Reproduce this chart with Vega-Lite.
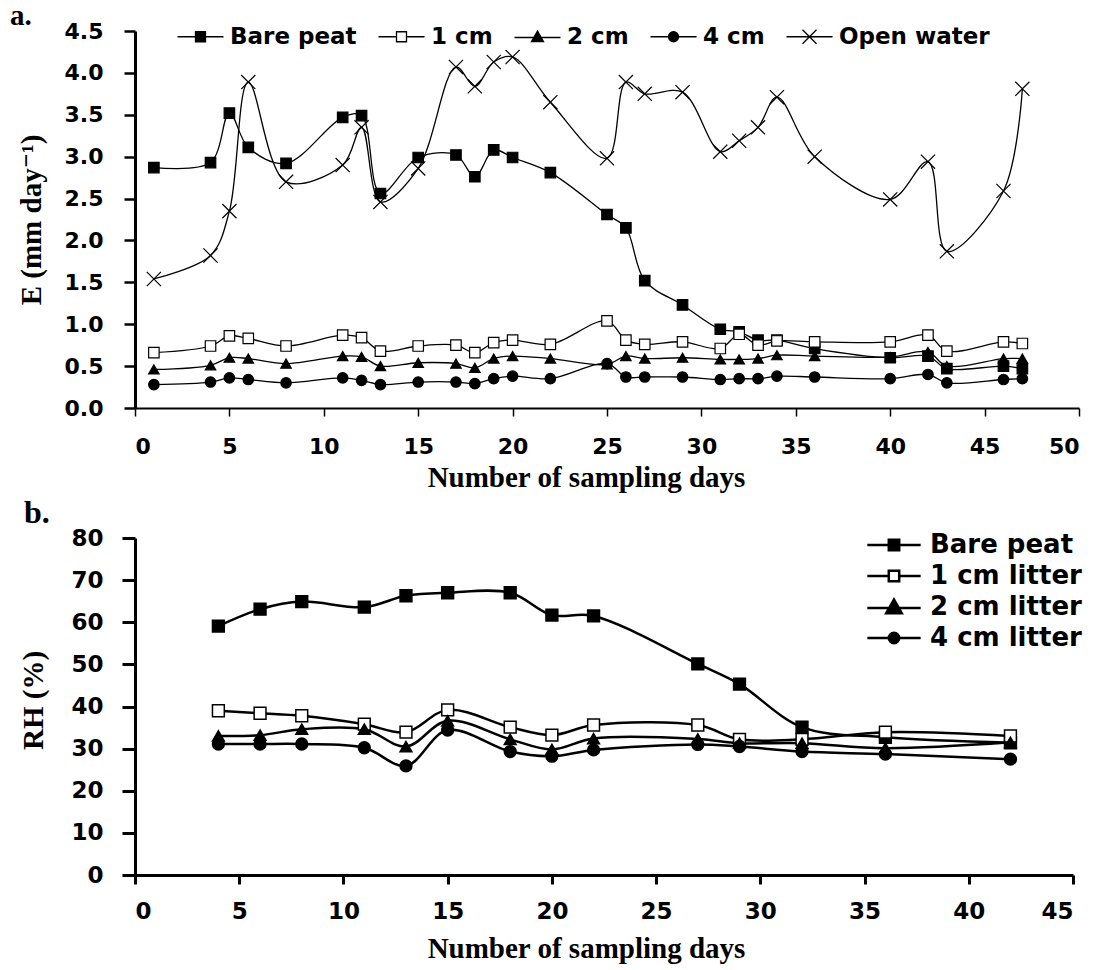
{
  "$schema": "https://vega.github.io/schema/vega-lite/v6.json",
  "padding": {"left": 10, "top": 2, "right": 5, "bottom": 5},
  "background": "white",
  "spacing": 5,
  "resolve": {"scale": {"shape": "independent", "fill": "independent"}, "legend": {"shape": "independent", "fill": "independent"}},
  "config": {
    "view": {"stroke": null},
    "axis": {"grid": false, "labelFont": "DejaVu Sans", "labelFontWeight": "bold", "labelColor": "black", "titleFont": "Liberation Serif, DejaVu Serif", "titleFontWeight": "bold", "titleColor": "black", "domainColor": "black", "tickColor": "black"},
    "legend": {"labelFont": "DejaVu Sans", "labelFontWeight": "bold", "labelColor": "black"}
  },
  "datasets": {
    "a": [
      {"series":"Bare peat","day":1,"E":2.87},{"series":"Bare peat","day":4,"E":2.93},{"series":"Bare peat","day":5,"E":3.52},{"series":"Bare peat","day":6,"E":3.11},{"series":"Bare peat","day":8,"E":2.92},{"series":"Bare peat","day":11,"E":3.47},{"series":"Bare peat","day":12,"E":3.49},{"series":"Bare peat","day":13,"E":2.56},{"series":"Bare peat","day":15,"E":2.99},{"series":"Bare peat","day":17,"E":3.02},{"series":"Bare peat","day":18,"E":2.76},{"series":"Bare peat","day":19,"E":3.08},{"series":"Bare peat","day":20,"E":2.99},{"series":"Bare peat","day":22,"E":2.81},{"series":"Bare peat","day":25,"E":2.31},{"series":"Bare peat","day":26,"E":2.15},{"series":"Bare peat","day":27,"E":1.52},{"series":"Bare peat","day":29,"E":1.23},{"series":"Bare peat","day":31,"E":0.94},{"series":"Bare peat","day":32,"E":0.91},{"series":"Bare peat","day":33,"E":0.81},{"series":"Bare peat","day":34,"E":0.81},{"series":"Bare peat","day":36,"E":0.71},{"series":"Bare peat","day":40,"E":0.6},{"series":"Bare peat","day":42,"E":0.62},{"series":"Bare peat","day":43,"E":0.47},{"series":"Bare peat","day":46,"E":0.5},{"series":"Bare peat","day":47,"E":0.47},
      {"series":"1 cm","day":1,"E":0.66},{"series":"1 cm","day":4,"E":0.74},{"series":"1 cm","day":5,"E":0.86},{"series":"1 cm","day":6,"E":0.83},{"series":"1 cm","day":8,"E":0.74},{"series":"1 cm","day":11,"E":0.87},{"series":"1 cm","day":12,"E":0.84},{"series":"1 cm","day":13,"E":0.68},{"series":"1 cm","day":15,"E":0.74},{"series":"1 cm","day":17,"E":0.75},{"series":"1 cm","day":18,"E":0.66},{"series":"1 cm","day":19,"E":0.78},{"series":"1 cm","day":20,"E":0.81},{"series":"1 cm","day":22,"E":0.76},{"series":"1 cm","day":25,"E":1.04},{"series":"1 cm","day":26,"E":0.81},{"series":"1 cm","day":27,"E":0.76},{"series":"1 cm","day":29,"E":0.79},{"series":"1 cm","day":31,"E":0.71},{"series":"1 cm","day":32,"E":0.88},{"series":"1 cm","day":33,"E":0.75},{"series":"1 cm","day":34,"E":0.8},{"series":"1 cm","day":36,"E":0.79},{"series":"1 cm","day":40,"E":0.79},{"series":"1 cm","day":42,"E":0.87},{"series":"1 cm","day":43,"E":0.68},{"series":"1 cm","day":46,"E":0.79},{"series":"1 cm","day":47,"E":0.77},
      {"series":"2 cm","day":1,"E":0.46},{"series":"2 cm","day":4,"E":0.51},{"series":"2 cm","day":5,"E":0.6},{"series":"2 cm","day":6,"E":0.59},{"series":"2 cm","day":8,"E":0.53},{"series":"2 cm","day":11,"E":0.62},{"series":"2 cm","day":12,"E":0.61},{"series":"2 cm","day":13,"E":0.5},{"series":"2 cm","day":15,"E":0.54},{"series":"2 cm","day":17,"E":0.53},{"series":"2 cm","day":18,"E":0.48},{"series":"2 cm","day":19,"E":0.59},{"series":"2 cm","day":20,"E":0.62},{"series":"2 cm","day":22,"E":0.59},{"series":"2 cm","day":25,"E":0.52},{"series":"2 cm","day":26,"E":0.62},{"series":"2 cm","day":27,"E":0.59},{"series":"2 cm","day":29,"E":0.6},{"series":"2 cm","day":31,"E":0.58},{"series":"2 cm","day":32,"E":0.58},{"series":"2 cm","day":33,"E":0.59},{"series":"2 cm","day":34,"E":0.63},{"series":"2 cm","day":36,"E":0.62},{"series":"2 cm","day":40,"E":0.61},{"series":"2 cm","day":42,"E":0.67},{"series":"2 cm","day":43,"E":0.5},{"series":"2 cm","day":46,"E":0.59},{"series":"2 cm","day":47,"E":0.59},
      {"series":"4 cm","day":1,"E":0.28},{"series":"4 cm","day":4,"E":0.31},{"series":"4 cm","day":5,"E":0.36},{"series":"4 cm","day":6,"E":0.34},{"series":"4 cm","day":8,"E":0.3},{"series":"4 cm","day":11,"E":0.36},{"series":"4 cm","day":12,"E":0.33},{"series":"4 cm","day":13,"E":0.28},{"series":"4 cm","day":15,"E":0.31},{"series":"4 cm","day":17,"E":0.31},{"series":"4 cm","day":18,"E":0.29},{"series":"4 cm","day":19,"E":0.35},{"series":"4 cm","day":20,"E":0.38},{"series":"4 cm","day":22,"E":0.35},{"series":"4 cm","day":25,"E":0.53},{"series":"4 cm","day":26,"E":0.37},{"series":"4 cm","day":27,"E":0.37},{"series":"4 cm","day":29,"E":0.37},{"series":"4 cm","day":31,"E":0.34},{"series":"4 cm","day":32,"E":0.35},{"series":"4 cm","day":33,"E":0.35},{"series":"4 cm","day":34,"E":0.38},{"series":"4 cm","day":36,"E":0.37},{"series":"4 cm","day":40,"E":0.35},{"series":"4 cm","day":42,"E":0.4},{"series":"4 cm","day":43,"E":0.3},{"series":"4 cm","day":46,"E":0.34},{"series":"4 cm","day":47,"E":0.35},
      {"series":"Open water","day":1,"E":1.54},{"series":"Open water","day":4,"E":1.82},{"series":"Open water","day":5,"E":2.35},{"series":"Open water","day":6,"E":3.89},{"series":"Open water","day":8,"E":2.7},{"series":"Open water","day":11,"E":2.9},{"series":"Open water","day":12,"E":3.35},{"series":"Open water","day":13,"E":2.46},{"series":"Open water","day":15,"E":2.86},{"series":"Open water","day":17,"E":4.07},{"series":"Open water","day":18,"E":3.84},{"series":"Open water","day":19,"E":4.13},{"series":"Open water","day":20,"E":4.19},{"series":"Open water","day":22,"E":3.65},{"series":"Open water","day":25,"E":2.98},{"series":"Open water","day":26,"E":3.89},{"series":"Open water","day":27,"E":3.75},{"series":"Open water","day":29,"E":3.77},{"series":"Open water","day":31,"E":3.06},{"series":"Open water","day":32,"E":3.19},{"series":"Open water","day":33,"E":3.35},{"series":"Open water","day":34,"E":3.71},{"series":"Open water","day":36,"E":3.0},{"series":"Open water","day":40,"E":2.49},{"series":"Open water","day":42,"E":2.94},{"series":"Open water","day":43,"E":1.87},{"series":"Open water","day":46,"E":2.59},{"series":"Open water","day":47,"E":3.81}
    ],
    "b": [
      {"series":"Bare peat","day":4,"RH":59.1},{"series":"Bare peat","day":6,"RH":63.1},{"series":"Bare peat","day":8,"RH":64.9},{"series":"Bare peat","day":11,"RH":63.6},{"series":"Bare peat","day":13,"RH":66.3},{"series":"Bare peat","day":15,"RH":67.0},{"series":"Bare peat","day":18,"RH":67.0},{"series":"Bare peat","day":20,"RH":61.7},{"series":"Bare peat","day":22,"RH":61.5},{"series":"Bare peat","day":27,"RH":50.1},{"series":"Bare peat","day":29,"RH":45.3},{"series":"Bare peat","day":32,"RH":35.1},{"series":"Bare peat","day":36,"RH":32.7},{"series":"Bare peat","day":42,"RH":31.4},
      {"series":"1 cm litter","day":4,"RH":39.0},{"series":"1 cm litter","day":6,"RH":38.4},{"series":"1 cm litter","day":8,"RH":37.8},{"series":"1 cm litter","day":11,"RH":35.8},{"series":"1 cm litter","day":13,"RH":33.9},{"series":"1 cm litter","day":15,"RH":39.2},{"series":"1 cm litter","day":18,"RH":35.1},{"series":"1 cm litter","day":20,"RH":33.2},{"series":"1 cm litter","day":22,"RH":35.6},{"series":"1 cm litter","day":27,"RH":35.6},{"series":"1 cm litter","day":29,"RH":32.2},{"series":"1 cm litter","day":32,"RH":32.2},{"series":"1 cm litter","day":36,"RH":33.9},{"series":"1 cm litter","day":42,"RH":33.0},
      {"series":"2 cm litter","day":4,"RH":33.0},{"series":"2 cm litter","day":6,"RH":33.2},{"series":"2 cm litter","day":8,"RH":34.6},{"series":"2 cm litter","day":11,"RH":34.6},{"series":"2 cm litter","day":13,"RH":30.5},{"series":"2 cm litter","day":15,"RH":36.6},{"series":"2 cm litter","day":18,"RH":32.2},{"series":"2 cm litter","day":20,"RH":29.8},{"series":"2 cm litter","day":22,"RH":32.4},{"series":"2 cm litter","day":27,"RH":32.3},{"series":"2 cm litter","day":29,"RH":31.3},{"series":"2 cm litter","day":32,"RH":31.3},{"series":"2 cm litter","day":36,"RH":30.1},{"series":"2 cm litter","day":42,"RH":31.5},
      {"series":"4 cm litter","day":4,"RH":31.1},{"series":"4 cm litter","day":6,"RH":31.1},{"series":"4 cm litter","day":8,"RH":31.1},{"series":"4 cm litter","day":11,"RH":30.2},{"series":"4 cm litter","day":13,"RH":25.9},{"series":"4 cm litter","day":15,"RH":34.4},{"series":"4 cm litter","day":18,"RH":29.3},{"series":"4 cm litter","day":20,"RH":28.2},{"series":"4 cm litter","day":22,"RH":29.7},{"series":"4 cm litter","day":27,"RH":31.0},{"series":"4 cm litter","day":29,"RH":30.5},{"series":"4 cm litter","day":32,"RH":29.3},{"series":"4 cm litter","day":36,"RH":28.7},{"series":"4 cm litter","day":42,"RH":27.5}
    ]
  },
  "vconcat": [
    {
      "width": 944,
      "height": 377,
      "data": {"name": "a"},
      "title": {"text": "a.", "anchor": "start", "frame": "group", "dx": -125, "offset": -34, "baseline": "alphabetic", "font": "Liberation Serif", "fontSize": 29, "fontWeight": "bold", "color": "black"},
      "encoding": {
        "x": {"field": "day", "type": "quantitative", "scale": {"domain": [0, 50], "nice": false},
          "axis": {"values": [0,5,10,15,20,25,30,35,40,45,50], "title": "Number of sampling days", "titleFontSize": 29, "titleX": 451, "titleY": 69, "titleBaseline": "middle", "labelFontSize": 22, "tickSize": 8, "labelPadding": 20, "domainWidth": 2, "tickWidth": 1.5}},
        "y": {"field": "E", "type": "quantitative", "scale": {"domain": [0, 4.5], "nice": false},
          "axis": {"values": [0,0.5,1,1.5,2,2.5,3,3.5,4,4.5], "format": ".1f", "title": "E (mm day⁻¹)", "titleFontSize": 29, "titleX": -104, "titleBaseline": "middle", "labelFontSize": 22, "tickSize": 11, "labelPadding": 21, "domainWidth": 3, "tickWidth": 2.5}}
      },
      "layer": [
        {"mark": {"type": "line", "interpolate": "catmull-rom", "color": "black", "strokeWidth": 1.3},
         "encoding": {"detail": {"field": "series"}}},
        {"mark": {"type": "point", "filled": true, "stroke": "black", "strokeWidth": 1.2, "opacity": 1, "size": 110},
         "encoding": {
           "shape": {"field": "series", "type": "nominal", "sort": ["Bare peat","1 cm","2 cm","4 cm","Open water"],
             "scale": {"range": ["square","square","triangle-up","circle","M-1.35,-1.35L1.35,1.35M-1.35,1.35L1.35,-1.35"]},
             "legend": null},
           "fill": {"field": "series", "type": "nominal",
             "scale": {"domain": ["Bare peat","1 cm","2 cm","4 cm","Open water"], "range": ["black","white","black","black","black"]},
             "legend": {"orient": "none", "direction": "horizontal", "legendX": 54, "legendY": -6, "title": null, "padding": 0,
               "labelFontSize": 23, "symbolSize": 100, "symbolStrokeWidth": 1.3, "symbolStrokeColor": "black", "labelOffset": 18, "columnPadding": 18,
               "symbolType": {"expr": "datum.value === '2 cm' ? 'M-4.6,0.15H4.6M0,-1.15L1.2,0.95H-1.2Z' : datum.value === '4 cm' ? 'M-4.6,0H4.6M1,0A1,1,0,1,1,-1,0A1,1,0,1,1,1,0Z' : datum.value === 'Open water' ? 'M-4.6,0H4.6M-1.4,-1.4L1.4,1.4M-1.4,1.4L1.4,-1.4' : 'M-4.6,0H-1M1,0H4.6M-1,-1H1V1H-1Z'"}}}
         }}
      ]
    },
    {
      "width": 938,
      "height": 337,
      "data": {"name": "b"},
      "title": {"text": "b.", "anchor": "start", "frame": "group", "dx": -111, "offset": -28, "baseline": "alphabetic", "font": "Liberation Serif", "fontSize": 32, "fontWeight": "bold", "color": "black"},
      "encoding": {
        "x": {"field": "day", "type": "quantitative", "scale": {"domain": [0, 45], "nice": false},
          "axis": {"values": [0,5,10,15,20,25,30,35,40,45], "title": "Number of sampling days", "titleFontSize": 29, "titleX": 451, "titleY": 73, "titleBaseline": "middle", "labelFontSize": 23, "tickSize": 9, "labelPadding": 16, "domainWidth": 3, "tickWidth": 3}},
        "y": {"field": "RH", "type": "quantitative", "scale": {"domain": [0, 80], "nice": false},
          "axis": {"values": [0,10,20,30,40,50,60,70,80], "title": "RH (%)", "titleFontSize": 29, "titleX": -102, "titleY": 162, "titleBaseline": "middle", "labelFontSize": 23, "tickSize": 13, "labelPadding": 19, "domainWidth": 3, "tickWidth": 3}}
      },
      "layer": [
        {"mark": {"type": "line", "interpolate": "catmull-rom", "color": "black", "strokeWidth": 2.5},
         "encoding": {"detail": {"field": "series"}}},
        {"mark": {"type": "point", "filled": true, "stroke": "black", "strokeWidth": 1.5, "opacity": 1, "size": 140},
         "encoding": {
           "shape": {"field": "series", "type": "nominal", "sort": ["Bare peat","1 cm litter","2 cm litter","4 cm litter"],
             "scale": {"range": ["square","square","triangle-up","circle"]},
             "legend": null},
           "fill": {"field": "series", "type": "nominal",
             "scale": {"domain": ["Bare peat","1 cm litter","2 cm litter","4 cm litter"], "range": ["black","white","black","black"]},
             "legend": {"orient": "none", "direction": "vertical", "legendX": 746, "legendY": -6, "title": null, "padding": 0,
               "labelFontSize": 26, "symbolSize": 169, "symbolStrokeWidth": 2.5, "symbolStrokeColor": "black", "labelOffset": 23, "rowPadding": 5,
               "symbolType": {"expr": "datum.value === '2 cm litter' ? 'M-4.1,0.15H4.1M0,-1.15L1.2,0.95H-1.2Z' : datum.value === '4 cm litter' ? 'M-4.1,0H4.1M0.8,0A0.8,0.8,0,1,1,-0.8,0A0.8,0.8,0,1,1,0.8,0Z' : 'M-4.1,0H-0.8M0.8,0H4.1M-0.8,-0.8H0.8V0.8H-0.8Z'"}}}
         }}
      ]
    }
  ]
}
